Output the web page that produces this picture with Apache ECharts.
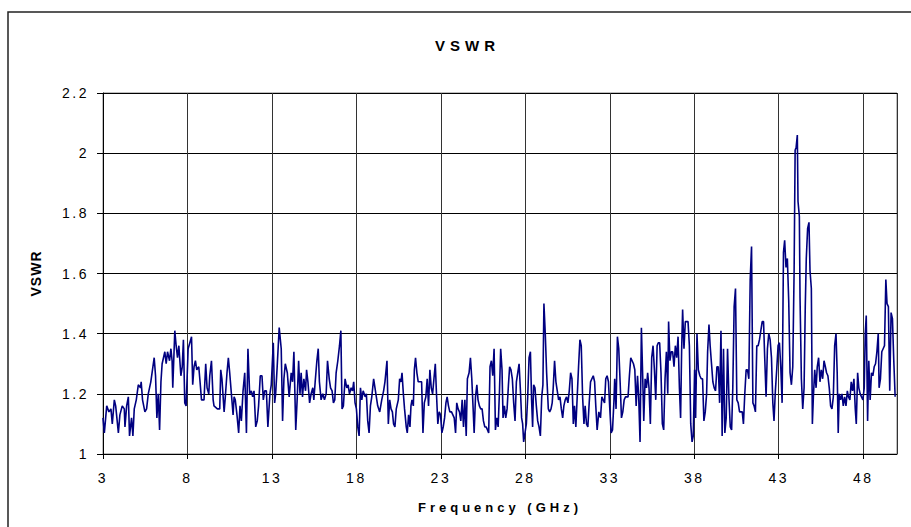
<!DOCTYPE html>
<html><head><meta charset="utf-8">
<script src="https://cdn.jsdelivr.net/npm/echarts@6/dist/echarts.min.js"></script>
<style>html,body{margin:0;padding:0;background:#fff}#c{width:911px;height:527px}</style>
</head><body><div id="c"></div>
<script>
const chartTitle = 'VSWR';
const xAxisName = 'Frequency (GHz)';
const yAxisName = 'VSWR';
const xMin = 3, xMax = 50, xStep = 5;
const yMin = 1, yMax = 2.2, yStep = 0.2;

// [frequency GHz, VSWR], band by band
const band3to9 = [[3.00,1.12],[3.08,1.07],[3.22,1.16],[3.35,1.14],[3.47,1.15],[3.55,1.10],[3.67,1.18],[3.75,1.16],[3.91,1.07],[4.00,1.13],[4.14,1.16],[4.26,1.15],[4.30,1.09],[4.40,1.16],[4.50,1.19],[4.57,1.06],[4.69,1.12],[4.77,1.06],[4.85,1.15],[4.97,1.18],[5.09,1.23],[5.22,1.22],[5.26,1.24],[5.34,1.18],[5.48,1.14],[5.58,1.15],[5.68,1.20],[5.83,1.24],[6.03,1.32],[6.11,1.26],[6.19,1.12],[6.27,1.20],[6.35,1.08],[6.43,1.24],[6.50,1.30],[6.66,1.34],[6.74,1.30],[6.82,1.34],[6.94,1.31],[7.02,1.35],[7.09,1.31],[7.13,1.22],[7.25,1.41],[7.33,1.36],[7.41,1.32],[7.49,1.36],[7.61,1.26],[7.69,1.29],[7.76,1.38],[7.84,1.17],[7.92,1.16],[8.04,1.35],[8.14,1.37],[8.24,1.39],[8.31,1.23],[8.39,1.29],[8.47,1.31],[8.55,1.28],[8.67,1.29]];
const band9to15 = [[8.73,1.25],[8.83,1.18],[8.98,1.18],[9.08,1.30],[9.16,1.22],[9.26,1.20],[9.32,1.26],[9.42,1.31],[9.52,1.18],[9.57,1.16],[9.77,1.15],[9.91,1.15],[9.97,1.28],[10.04,1.25],[10.17,1.14],[10.24,1.19],[10.34,1.27],[10.42,1.32],[10.50,1.27],[10.60,1.20],[10.70,1.13],[10.76,1.19],[10.83,1.18],[10.93,1.13],[11.03,1.07],[11.11,1.16],[11.19,1.11],[11.29,1.21],[11.39,1.27],[11.49,1.07],[11.58,1.35],[11.68,1.20],[11.78,1.21],[11.86,1.19],[11.94,1.21],[12.04,1.09],[12.13,1.11],[12.21,1.16],[12.31,1.26],[12.41,1.26],[12.49,1.18],[12.57,1.21],[12.67,1.21],[12.76,1.09],[12.88,1.20],[12.96,1.23],[13.08,1.37],[13.16,1.17],[13.22,1.20],[13.31,1.29],[13.43,1.42],[13.55,1.35],[13.63,1.11],[13.71,1.25],[13.79,1.30],[13.91,1.27],[14.02,1.19],[14.14,1.27],[14.22,1.24],[14.30,1.34],[14.41,1.08],[14.50,1.19],[14.58,1.31],[14.66,1.20]];
const band15to21 = [[14.73,1.27],[14.81,1.19],[14.89,1.25],[14.99,1.21],[15.05,1.28],[15.13,1.24],[15.23,1.17],[15.32,1.20],[15.42,1.22],[15.48,1.18],[15.56,1.24],[15.66,1.31],[15.74,1.35],[15.81,1.24],[15.91,1.18],[16.01,1.20],[16.11,1.18],[16.21,1.20],[16.29,1.31],[16.39,1.25],[16.47,1.22],[16.56,1.21],[16.64,1.17],[16.72,1.18],[16.80,1.27],[16.90,1.31],[17.00,1.36],[17.08,1.41],[17.15,1.15],[17.23,1.16],[17.33,1.25],[17.43,1.22],[17.51,1.23],[17.59,1.20],[17.69,1.22],[17.77,1.21],[17.84,1.24],[17.92,1.17],[18.00,1.15],[18.08,1.09],[18.16,1.06],[18.24,1.22],[18.32,1.18],[18.40,1.21],[18.52,1.19],[18.59,1.20],[18.67,1.11],[18.75,1.07],[18.83,1.16],[18.91,1.19],[19.02,1.25],[19.10,1.22],[19.18,1.19],[19.26,1.16],[19.38,1.14],[19.50,1.18],[19.61,1.21],[19.69,1.24],[19.81,1.31],[19.89,1.10],[19.97,1.18],[20.05,1.15],[20.13,1.14],[20.20,1.10],[20.28,1.09],[20.36,1.15],[20.48,1.18],[20.56,1.25]];
const band21to27 = [[20.64,1.24],[20.70,1.27],[20.78,1.20],[20.85,1.15],[20.95,1.09],[21.01,1.07],[21.09,1.13],[21.17,1.09],[21.23,1.16],[21.29,1.18],[21.37,1.16],[21.43,1.28],[21.50,1.32],[21.58,1.27],[21.66,1.24],[21.76,1.24],[21.86,1.24],[21.94,1.07],[22.02,1.17],[22.11,1.19],[22.19,1.25],[22.27,1.16],[22.35,1.28],[22.43,1.22],[22.51,1.20],[22.59,1.25],[22.67,1.30],[22.74,1.20],[22.82,1.10],[22.90,1.14],[22.98,1.13],[23.06,1.07],[23.14,1.09],[23.22,1.12],[23.30,1.17],[23.37,1.19],[23.45,1.16],[23.53,1.14],[23.63,1.14],[23.71,1.13],[23.79,1.12],[23.87,1.07],[23.94,1.17],[24.02,1.15],[24.10,1.14],[24.18,1.11],[24.26,1.18],[24.34,1.09],[24.42,1.18],[24.50,1.06],[24.57,1.25],[24.67,1.27],[24.75,1.32],[24.83,1.25],[24.91,1.15],[24.97,1.07],[25.05,1.19],[25.13,1.23],[25.20,1.18],[25.28,1.16],[25.36,1.15],[25.44,1.15],[25.52,1.11],[25.60,1.09],[25.68,1.09],[25.76,1.08],[25.83,1.07],[25.91,1.29],[25.99,1.31],[26.07,1.26],[26.15,1.35],[26.23,1.08],[26.31,1.12],[26.39,1.09],[26.47,1.21]];
const band27to33 = [[26.54,1.35],[26.62,1.28],[26.68,1.12],[26.76,1.16],[26.84,1.12],[26.92,1.15],[27.00,1.23],[27.07,1.29],[27.15,1.28],[27.23,1.25],[27.31,1.17],[27.39,1.11],[27.47,1.24],[27.55,1.27],[27.63,1.30],[27.71,1.21],[27.78,1.12],[27.84,1.10],[27.90,1.04],[27.98,1.07],[28.06,1.10],[28.14,1.19],[28.22,1.32],[28.30,1.34],[28.37,1.18],[28.43,1.09],[28.49,1.23],[28.57,1.22],[28.65,1.16],[28.73,1.11],[28.81,1.09],[28.89,1.06],[28.97,1.19],[29.04,1.23],[29.10,1.50],[29.18,1.40],[29.26,1.27],[29.36,1.15],[29.44,1.14],[29.52,1.15],[29.59,1.17],[29.65,1.22],[29.73,1.31],[29.81,1.24],[29.89,1.21],[29.97,1.18],[30.05,1.19],[30.13,1.15],[30.21,1.12],[30.28,1.16],[30.36,1.18],[30.44,1.19],[30.52,1.17],[30.60,1.21],[30.68,1.27],[30.76,1.25],[30.84,1.10],[30.91,1.16],[30.99,1.09],[31.07,1.19],[31.15,1.29],[31.23,1.38],[31.31,1.36],[31.39,1.19],[31.47,1.10],[31.54,1.16],[31.62,1.10],[31.70,1.09],[31.78,1.17],[31.86,1.24],[31.94,1.25],[32.02,1.26],[32.10,1.24],[32.17,1.16],[32.25,1.08],[32.35,1.14]];
const band33to38 = [[32.45,1.12],[32.53,1.19],[32.61,1.18],[32.69,1.17],[32.76,1.25],[32.84,1.26],[32.92,1.24],[33.00,1.15],[33.08,1.07],[33.16,1.08],[33.24,1.17],[33.29,1.25],[33.37,1.15],[33.45,1.39],[33.53,1.35],[33.61,1.24],[33.69,1.12],[33.77,1.14],[33.85,1.18],[33.93,1.19],[34.01,1.19],[34.08,1.19],[34.16,1.26],[34.24,1.32],[34.32,1.31],[34.40,1.30],[34.48,1.28],[34.56,1.16],[34.64,1.26],[34.71,1.19],[34.79,1.04],[34.87,1.42],[34.95,1.25],[35.01,1.11],[35.09,1.25],[35.17,1.22],[35.24,1.27],[35.32,1.22],[35.40,1.10],[35.48,1.32],[35.56,1.36],[35.64,1.28],[35.72,1.18],[35.80,1.36],[35.87,1.37],[35.95,1.37],[36.03,1.27],[36.11,1.10],[36.19,1.08],[36.27,1.25],[36.35,1.34],[36.43,1.20],[36.48,1.44],[36.56,1.31],[36.64,1.34],[36.72,1.34],[36.80,1.29],[36.88,1.36],[36.96,1.32],[37.04,1.39],[37.12,1.22],[37.19,1.12],[37.25,1.34],[37.31,1.48],[37.39,1.35],[37.47,1.44],[37.55,1.44],[37.63,1.44],[37.71,1.36],[37.79,1.10],[37.87,1.04],[37.94,1.06],[38.02,1.28],[38.08,1.12],[38.16,1.40],[38.24,1.28]];
const band38to44 = [[38.33,1.26],[38.41,1.25],[38.49,1.25],[38.57,1.11],[38.65,1.14],[38.73,1.20],[38.79,1.34],[38.87,1.43],[38.94,1.36],[39.02,1.30],[39.10,1.24],[39.18,1.22],[39.26,1.21],[39.34,1.29],[39.42,1.29],[39.50,1.17],[39.58,1.41],[39.65,1.06],[39.73,1.35],[39.81,1.07],[39.89,1.12],[39.97,1.35],[40.05,1.19],[40.13,1.09],[40.21,1.08],[40.28,1.22],[40.36,1.49],[40.44,1.55],[40.52,1.18],[40.60,1.17],[40.68,1.14],[40.76,1.14],[40.84,1.14],[40.91,1.10],[40.99,1.20],[41.07,1.28],[41.15,1.28],[41.23,1.25],[41.31,1.58],[41.39,1.69],[41.47,1.17],[41.54,1.16],[41.62,1.14],[41.70,1.36],[41.78,1.36],[41.86,1.38],[41.94,1.41],[42.02,1.44],[42.10,1.44],[42.17,1.32],[42.25,1.19],[42.33,1.35],[42.41,1.40],[42.49,1.38],[42.57,1.32],[42.65,1.17],[42.72,1.11],[42.80,1.21],[42.88,1.28],[42.96,1.36],[43.04,1.37],[43.12,1.29],[43.20,1.17],[43.28,1.67],[43.35,1.71],[43.43,1.62],[43.51,1.65],[43.59,1.51],[43.67,1.27],[43.75,1.23],[43.83,1.29],[43.91,1.61]];
const band44to50 = [[43.97,2.01],[44.03,2.02],[44.10,2.06],[44.14,1.84],[44.22,1.79],[44.26,1.52],[44.34,1.25],[44.42,1.15],[44.50,1.22],[44.57,1.49],[44.63,1.65],[44.71,1.75],[44.79,1.77],[44.85,1.61],[44.93,1.55],[44.99,1.10],[45.05,1.19],[45.13,1.28],[45.21,1.22],[45.28,1.29],[45.36,1.32],[45.44,1.24],[45.52,1.28],[45.60,1.25],[45.68,1.31],[45.76,1.29],[45.83,1.27],[45.91,1.26],[45.99,1.22],[46.07,1.16],[46.15,1.15],[46.23,1.19],[46.31,1.36],[46.39,1.40],[46.46,1.27],[46.52,1.07],[46.58,1.20],[46.66,1.18],[46.74,1.20],[46.82,1.16],[46.90,1.19],[46.98,1.16],[47.06,1.21],[47.13,1.19],[47.21,1.18],[47.29,1.24],[47.37,1.21],[47.45,1.25],[47.53,1.15],[47.59,1.10],[47.67,1.27],[47.74,1.22],[47.82,1.20],[47.90,1.19],[47.98,1.18],[48.06,1.22],[48.12,1.40],[48.18,1.46],[48.26,1.11],[48.33,1.31],[48.41,1.18],[48.49,1.27],[48.57,1.26],[48.65,1.29],[48.73,1.30],[48.81,1.34],[48.89,1.40],[48.94,1.22],[49.02,1.25],[49.10,1.34],[49.18,1.35],[49.26,1.36],[49.34,1.58],[49.41,1.50],[49.49,1.49],[49.57,1.21],[49.65,1.47],[49.73,1.45],[49.81,1.31],[49.89,1.19]];

const trace = [].concat(band3to9, band9to15, band15to21, band21to27, band27to33, band33to38, band38to44, band44to50);

const FONT = '"Liberation Sans", Arial, sans-serif';
const chart = echarts.init(document.getElementById('c'), null, {renderer: 'svg'});
chart.setOption({
  animation: false,
  backgroundColor: '#ffffff',
  graphic: [{
    type: 'rect', silent: true, z: -1,
    shape: {x: 8, y: 12, width: 1000, height: 1000},
    style: {fill: 'none', stroke: '#222', lineWidth: 1.5}
  }],
  title: {
    text: chartTitle, left: 430, top: 33,
    textStyle: {fontFamily: FONT, fontWeight: 'bold', fontSize: 15, color: '#000'}
  },
  grid: {left: 103, right: 14, top: 93, bottom: 73, show: true, borderColor: '#808080', borderWidth: 1, backgroundColor: 'transparent'},
  xAxis: {
    type: 'value', min: xMin, max: xMax, interval: xStep,
    name: xAxisName, nameLocation: 'middle', nameGap: 47,
    nameTextStyle: {fontFamily: FONT, fontWeight: 'bold', fontSize: 13, color: '#000'},
    axisLine: {show: true, lineStyle: {color: '#000', width: 1}},
    axisTick: {show: true, inside: false, length: 5, lineStyle: {color: '#000'}},
    axisLabel: {fontFamily: FONT, fontSize: 14, color: '#000', margin: 17, showMaxLabel: false},
    splitLine: {show: true, lineStyle: {color: '#333', width: 1}}
  },
  yAxis: {
    type: 'value', min: yMin, max: yMax, interval: yStep,
    name: yAxisName, nameLocation: 'middle', nameGap: 60,
    nameTextStyle: {fontFamily: FONT, fontWeight: 'bold', fontSize: 14, color: '#000'},
    axisLine: {show: true, lineStyle: {color: '#000', width: 1}},
    axisTick: {show: true, inside: false, length: 6, lineStyle: {color: '#000'}},
    axisLabel: {fontFamily: FONT, fontSize: 14, color: '#000', margin: 14},
    splitLine: {show: true, lineStyle: {color: '#000', width: 1}}
  },
  series: [{
    type: 'line', data: trace, showSymbol: false, symbol: 'none',
    lineStyle: {color: '#000080', width: 1.6}, itemStyle: {color: '#000080'},
    clip: true
  }]
});

function applySpacing() {
  document.querySelectorAll('#c svg text').forEach(function (t) {
    const s = t.textContent;
    const fs = parseFloat(getComputedStyle(t).fontSize);
    let ls = '2.5px';
    if (s === chartTitle && fs >= 15) ls = '5px';
    else if (s === yAxisName) ls = '1px';
    else if (s === xAxisName) ls = '4px';
    t.style.letterSpacing = ls;
  });
}
applySpacing();
chart.on('finished', applySpacing);
</script>
</body></html>
